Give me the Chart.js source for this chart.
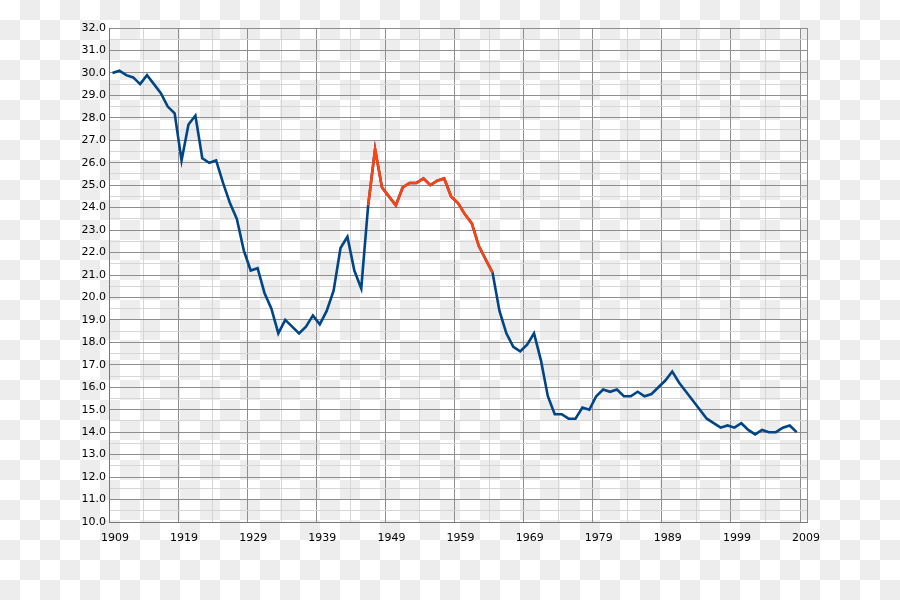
<!DOCTYPE html>
<html>
<head>
<meta charset="utf-8">
<script src="https://cdn.jsdelivr.net/npm/chart.js@4"></script>
<style>
  html, body { margin: 0; padding: 0; background: #fff; }
  canvas { display: block; }
</style>
</head>
<body>
<canvas id="rateChart" width="900" height="600"></canvas>
<script>
"use strict";

// Yearly values, 1909 - 2008
const firstYear = 1909;
const values = [
  30.0, 30.1, 29.9, 29.8, 29.5, 29.9, 29.5, 29.1, 28.5, 28.2,
  26.1, 27.7, 28.1, 26.2, 26.0, 26.1, 25.1, 24.2, 23.5, 22.1,
  21.2, 21.3, 20.2, 19.5, 18.4, 19.0, 18.7, 18.4, 18.7, 19.2,
  18.8, 19.4, 20.3, 22.2, 22.7, 21.2, 20.4, 24.1, 26.6, 24.9,
  24.5, 24.1, 24.9, 25.1, 25.1, 25.3, 25.0, 25.2, 25.3, 24.5,
  24.2, 23.7, 23.3, 22.3, 21.7, 21.1, 19.4, 18.4, 17.8, 17.6,
  17.9, 18.4, 17.2, 15.6, 14.8, 14.8, 14.6, 14.6, 15.1, 15.0,
  15.6, 15.9, 15.8, 15.9, 15.6, 15.6, 15.8, 15.6, 15.7, 16.0,
  16.3, 16.7, 16.2, 15.8, 15.4, 15.0, 14.6, 14.4, 14.2, 14.3,
  14.2, 14.4, 14.1, 13.9, 14.1, 14.0, 14.0, 14.2, 14.3, 14.0
];
const years = values.map((v, i) => firstYear + i);

// highlighted stretch (drawn in orange)
const boomStart = 1946;
const boomEnd = 1964;

// axis ticks
const xMin = 1909;
const xMax = 2010;
const xTicks = [1909, 1914, 1919, 1924, 1929, 1934, 1939, 1944, 1949, 1954, 1959,
  1964, 1969, 1974, 1979, 1984, 1989, 1994, 1999, 2004, 2009, 2010];
const xLabels = [1909, 1919, 1929, 1939, 1949, 1959, 1969, 1979, 1989, 1999, 2009];
const yMin = 10;
const yMax = 32;

// annual figures are drawn at mid-year
const allPoints = years.map((yr, i) => ({ x: yr + 0.5, y: values[i] }));
const boomPoints = years
  .map((yr, i) => ({ yr: yr, v: values[i] }))
  .filter((p) => p.yr >= boomStart && p.yr <= boomEnd)
  .map((p) => ({ x: p.yr + 0.5, y: p.v }));

const majorGrid = "#8e8e8e";
const minorGrid = "#d6d6d6";

// checkered backdrop behind everything
const checkerBackground = {
  id: "checkerBackground",
  beforeDraw(chart) {
    const ctx = chart.ctx;
    const w = chart.width, h = chart.height, cell = 20;
    ctx.save();
    ctx.fillStyle = "#ffffff";
    ctx.fillRect(0, 0, w, h);
    ctx.fillStyle = "#ededed";
    for (let r = 0; r * cell < h; r++) {
      for (let c = 0; c * cell < w; c++) {
        if ((r + c) % 2 === 1) ctx.fillRect(c * cell, r * cell, cell, cell);
      }
    }
    ctx.restore();
  },
};

const config = {
  type: "line",
  data: {
    datasets: [
      {
        data: boomPoints,
        borderColor: "#ff420e",
        backgroundColor: "#ff420e",
        borderWidth: 2.6,
        pointRadius: 0,
        tension: 0,
        order: 0,
      },
      {
        data: allPoints,
        borderColor: "#004586",
        backgroundColor: "#004586",
        borderWidth: 2.6,
        pointRadius: 0,
        tension: 0,
        order: 1,
      },
    ],
  },
  options: {
    responsive: false,
    animation: false,
    events: [],
    layout: {
      padding: { left: 0, top: 28, right: 93, bottom: 0 },
    },
    plugins: {
      legend: { display: false },
      tooltip: { enabled: false },
    },
    scales: {
      x: {
        type: "linear",
        min: xMin,
        max: xMax,
        afterBuildTicks: (scale) => {
          scale.ticks = xTicks.map((v) => ({ value: v }));
        },
        afterFit: (scale) => {
          scale.height = 78;
        },
        border: { color: "#777777", width: 1 },
        grid: {
          drawTicks: false,
          color: (ctx) => (xLabels.includes(ctx.tick.value) || ctx.tick.value === xMax ? majorGrid : minorGrid),
          lineWidth: 1,
        },
        ticks: {
          autoSkip: false,
          maxRotation: 0,
          padding: 10,
          labelOffset: 6,
          color: "#000000",
          font: { family: "DejaVu Sans", size: 11 },
          callback: (value) => (xLabels.includes(value) ? String(value) : ""),
        },
      },
      y: {
        min: yMin,
        max: yMax,
        afterFit: (scale) => {
          scale.width = 109;
        },
        border: { color: "#777777", width: 1 },
        grid: {
          drawTicks: false,
          color: (ctx) => (Number.isInteger(ctx.tick.value) ? majorGrid : minorGrid),
          lineWidth: 1,
        },
        ticks: {
          stepSize: 0.5,
          autoSkip: false,
          padding: 3,
          color: "#000000",
          font: { family: "DejaVu Sans", size: 11 },
          callback: (value) => (Number.isInteger(value) ? value.toFixed(1) : ""),
        },
      },
    },
  },
  plugins: [checkerBackground],
};

const rateChart = new Chart(document.getElementById("rateChart"), config);
</script>
</body>
</html>
